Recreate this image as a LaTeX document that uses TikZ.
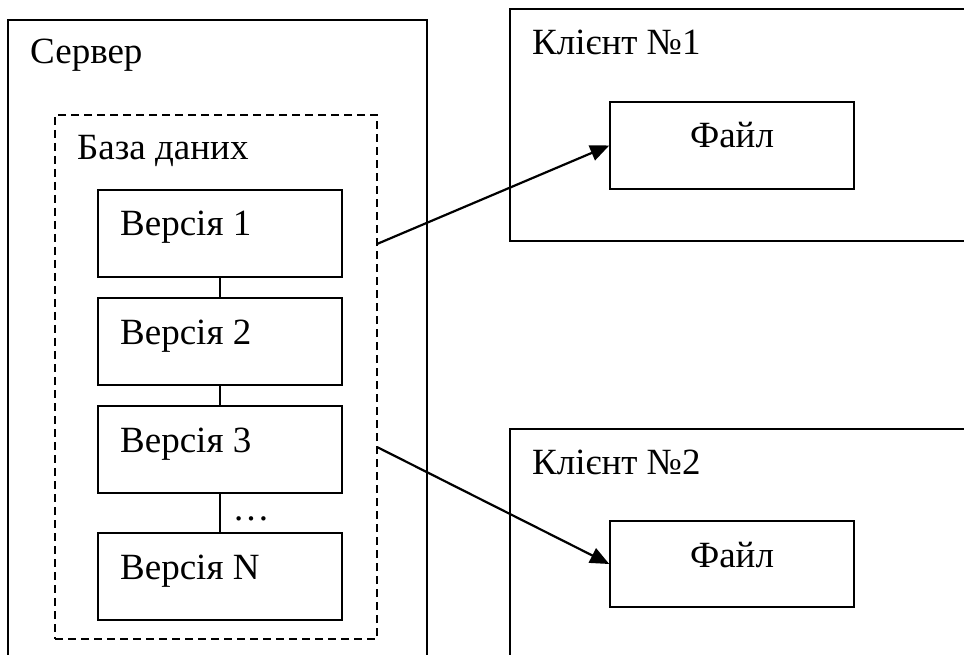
\documentclass[tikz,border=0pt]{standalone}
\usepackage{fontspec}
\setmainfont{Liberation Serif}
\usetikzlibrary{arrows.meta}
\begin{document}
\begin{tikzpicture}[x=1pt,y=-1pt,
 box/.style={draw,line width=1.5pt,inner sep=0pt,rectangle},
 dbbox/.style={draw,line width=1.5pt,dash pattern=on 8pt off 5pt,inner sep=0pt,rectangle},
 lbl/.style={anchor=base west,inner sep=0pt,font=\fontsize{37}{44}\selectfont},
 ctr/.style={anchor=base,inner sep=0pt,font=\fontsize{37}{44}\selectfont},
 link/.style={line width=1.4pt},
 arr/.style={line width=2.2pt,-{Triangle[length=19pt,width=16pt]}}]
\useasboundingbox (0,0) rectangle (964,655);
\clip (0,0) rectangle (964,655);
% server
\node[box,minimum width=419pt,minimum height=680pt] (srv) at (217.5,360) {};
\node[dbbox,minimum width=322pt,minimum height=524pt] (db) at (216,377) {};
\node[box,minimum width=244pt,minimum height=87pt] (v1) at (220,233.5) {};
\node[box,minimum width=244pt,minimum height=87pt] (v2) at (220,341.5) {};
\node[box,minimum width=244pt,minimum height=87pt] (v3) at (220,449.5) {};
\node[box,minimum width=244pt,minimum height=87pt] (vN) at (220,576.5) {};
\node[lbl] (tsrv) at (30,64) {Сервер};
\node[lbl] (tdb) at (77,160) {База даних};
\node[lbl] (tv1) at (120,236) {Версія 1};
\node[lbl] (tv2) at (120,344) {Версія 2};
\node[lbl] (tv3) at (120,452) {Версія 3};
\node[lbl] (tvN) at (120,579) {Версія N};
\node[ctr] (dots) at (251,520) {…};
\draw[link] (v1.south) -- (v2.north);
\draw[link] (v2.south) -- (v3.north);
\draw[link] (v3.south) -- (vN.north);
% clients
\node[box,minimum width=490pt,minimum height=232pt] (c1) at (755,125) {};
\node[box,minimum width=244pt,minimum height=87pt] (f1) at (732,145.5) {};
\node[lbl] (tc1) at (532,55) {Клієнт №1};
\node[ctr] (tf1) at (732,148) {Файл};
\node[box,minimum width=490pt,minimum height=271pt] (c2) at (755,564.5) {};
\node[box,minimum width=244pt,minimum height=86pt] (f2) at (732,564) {};
\node[lbl] (tc2) at (532,474) {Клієнт №2};
\node[ctr] (tf2) at (732,567) {Файл};
% arrows
\coordinate (s1) at (377,244);
\coordinate (s2) at (377,447);
\draw[arr] (s1) -- (f1.west);
\draw[arr] (s2) -- (f2.west);
\end{tikzpicture}
\end{document}
